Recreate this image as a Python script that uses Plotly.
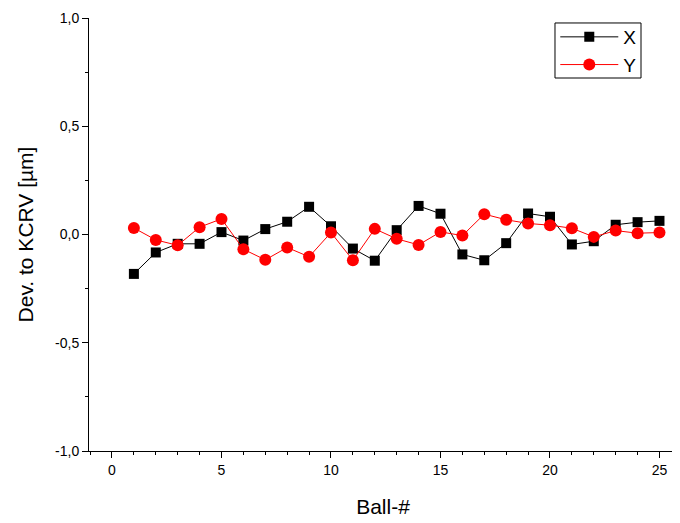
import plotly.graph_objects as go

balls = list(range(1, 26))
dev_x = [-0.182, -0.083, -0.043, -0.043, 0.011, -0.028, 0.025, 0.059, 0.128, 0.038,
         -0.065, -0.121, 0.020, 0.132, 0.096, -0.092, -0.119, -0.040, 0.097, 0.082,
         -0.046, -0.031, 0.045, 0.057, 0.063]
dev_y = [0.030, -0.025, -0.050, 0.034, 0.072, -0.068, -0.117, -0.060, -0.103, 0.009,
         -0.119, 0.026, -0.020, -0.048, 0.012, -0.005, 0.094, 0.068, 0.051, 0.043,
         0.029, -0.011, 0.018, 0.006, 0.009]
y_tickvals = [-1.0, -0.5, 0.0, 0.5, 1.0]
y_ticktext = ["-1,0", "-0,5", "0,0", "0,5", "1,0"]

fig = go.Figure()
fig.add_trace(go.Scatter(x=balls, y=dev_x, name="X", mode="lines+markers",
                         line=dict(color="black", width=1),
                         marker=dict(symbol="square", size=10, color="black")))
fig.add_trace(go.Scatter(x=balls, y=dev_y, name="Y", mode="lines+markers",
                         line=dict(color="#ff0000", width=1),
                         marker=dict(symbol="circle", size=12, color="#ff0000")))

axis_common = dict(showline=True, linecolor="black", linewidth=1, ticks="outside",
                   ticklen=6, tickcolor="black", tickwidth=1, showgrid=False,
                   zeroline=False, mirror=False, automargin=False,
                   tickfont=dict(family="Liberation Sans, Arial", size=14, color="black"))

fig.update_layout(
    width=672, height=515,
    margin=dict(l=81, r=3, t=10, b=72),
    paper_bgcolor="white", plot_bgcolor="white",
    separators=",.",
    font=dict(family="Liberation Sans, Arial", color="black"),
    xaxis=dict(range=[-1.05, 25.8], tickmode="linear", tick0=0, dtick=5,
               minor=dict(ticks="outside", ticklen=3, dtick=1, tickcolor="black"),
               title=dict(text="Ball-#", font=dict(size=21), standoff=22),
               **axis_common),
    yaxis=dict(range=[-1.0, 1.0], tickmode="array", tickvals=y_tickvals,
               ticktext=y_ticktext,
               minor=dict(ticks="outside", ticklen=3, tickvals=[-0.75, -0.25, 0.25, 0.75],
                          tickcolor="black"),
               title=dict(text="Dev. to KCRV [µm]", font=dict(size=21), standoff=15),
               **axis_common),
    legend=dict(x=0.793, y=1.0, xanchor="left", yanchor="top",
                borderwidth=0, bgcolor="rgba(0,0,0,0)",
                font=dict(size=19, color="black"), tracegroupgap=0,
                itemwidth=58),
    shapes=[dict(type="rect", xref="paper", yref="paper",
                 x0=0.7925, x1=0.9388, y0=0.8614, y1=0.9885,
                 line=dict(color="black", width=1), fillcolor="white", layer="below")],
    showlegend=True,
)

fig.write_html("out.html")
